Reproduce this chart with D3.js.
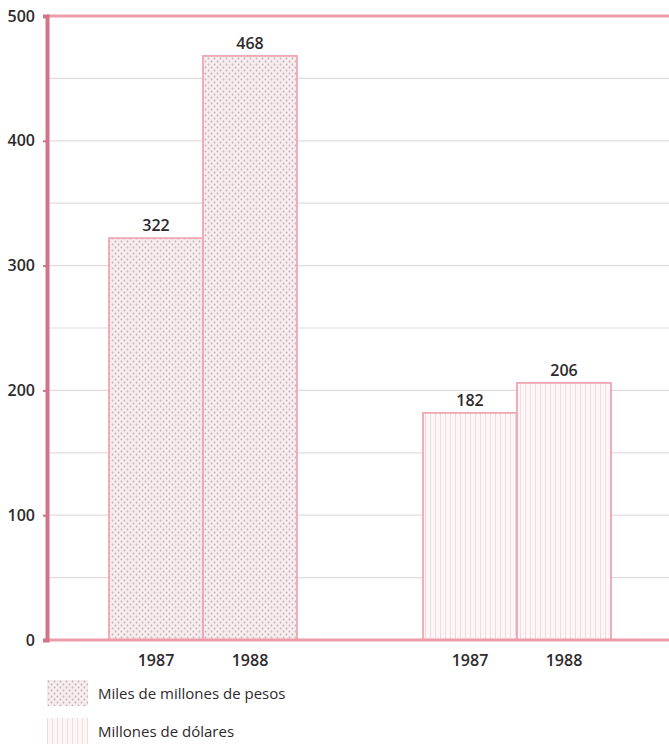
<!DOCTYPE html>
<html>
<head>
<meta charset="utf-8">
<script src="https://cdn.jsdelivr.net/npm/d3@7"></script>
<style>
  body { margin: 0; background: #fff; }
  text { font-family: "Open Sans", sans-serif; fill: #2e2a2c; }
</style>
</head>
<body>
<div id="chart"></div>
<script>
// data
var groups = ["pesos", "dolares"];
var years = ["1987", "1988"];
var pesos = [322, 468];
var dolares = [182, 206];
var yTicks = [0, 100, 200, 300, 400, 500];
var legendLabels = ["Miles de millones de pesos", "Millones de dólares"];

var width = 669,
    height = 746,
    plotLeft = 47,
    plotTop = 16,
    plotBottom = 640;

var svg = d3.select("#chart").append("svg")
    .attr("width", width)
    .attr("height", height);

var defs = svg.append("defs");

// dotted screen for pesos
var dots = defs.append("pattern")
    .attr("id", "dots")
    .attr("patternUnits", "userSpaceOnUse")
    .attr("width", 6).attr("height", 6);
dots.append("rect").attr("width", 6).attr("height", 6).attr("fill", "#f6edef");
dots.append("circle").attr("cx", 1.5).attr("cy", 1.5).attr("r", 0.9).attr("fill", "#c6aeb5");
dots.append("circle").attr("cx", 4.5).attr("cy", 4.5).attr("r", 0.9).attr("fill", "#c6aeb5");

// vertical hatching for dollars
var lines = defs.append("pattern")
    .attr("id", "vlines")
    .attr("patternUnits", "userSpaceOnUse")
    .attr("width", 5).attr("height", 10);
lines.append("rect").attr("width", 5).attr("height", 10).attr("fill", "#fcf6f7");
lines.append("rect").attr("x", 0).attr("width", 1).attr("height", 10).attr("fill", "#ecdde0");

var y = d3.scaleLinear()
    .domain([0, 500])
    .range([plotBottom, plotTop]);

var x0 = d3.scalePoint()
    .domain(groups)
    .range([203, 517]);

var x1 = d3.scaleBand()
    .domain(years)
    .range([-94, 94]);

// light grid every 50
svg.append("g")
    .selectAll("line")
    .data(d3.range(50, 500, 50))
    .enter().append("line")
      .attr("x1", plotLeft).attr("x2", width)
      .attr("y1", function(d) { return y(d); })
      .attr("y2", function(d) { return y(d); })
      .style("stroke", "#e4dadc")
      .style("stroke-width", "1.2px");

var values = { pesos: pesos, dolares: dolares };
var fills = { pesos: "url(#dots)", dolares: "url(#vlines)" };

var bars = [];
groups.forEach(function(g) {
  years.forEach(function(yr, i) {
    bars.push({ group: g, year: yr, value: values[g][i] });
  });
});

svg.append("g")
    .selectAll("rect")
    .data(bars)
    .enter().append("rect")
      .attr("x", function(d) { return x0(d.group) + x1(d.year); })
      .attr("y", function(d) { return y(d.value); })
      .attr("width", x1.bandwidth())
      .attr("height", function(d) { return y(0) - y(d.value); })
      .style("fill", function(d) { return fills[d.group]; })
      .style("stroke", "#f0a6b3")
      .style("stroke-width", "1.8px");

// value labels
svg.append("g")
    .selectAll("text")
    .data(bars)
    .enter().append("text")
      .attr("x", function(d) { return x0(d.group) + x1(d.year) + x1.bandwidth() / 2; })
      .attr("y", function(d) { return y(d.value) - 7; })
      .attr("text-anchor", "middle")
      .style("font-size", "16px")
      .style("font-weight", "600")
      .text(function(d) { return d.value; });

// year labels
svg.append("g")
    .selectAll("text")
    .data(bars)
    .enter().append("text")
      .attr("x", function(d) { return x0(d.group) + x1(d.year) + x1.bandwidth() / 2; })
      .attr("y", 666)
      .attr("text-anchor", "middle")
      .style("font-size", "16px")
      .style("font-weight", "600")
      .text(function(d) { return d.year; });

// frame: top and bottom pink lines, left axis
svg.append("line")
    .attr("x1", plotLeft).attr("x2", width)
    .attr("y1", y(500)).attr("y2", y(500))
    .style("stroke", "#ee9aa8").style("stroke-width", "3px");
svg.append("line")
    .attr("x1", plotLeft).attr("x2", width)
    .attr("y1", y(0)).attr("y2", y(0))
    .style("stroke", "#ee9aa8").style("stroke-width", "3px");

var yAxis = d3.axisLeft(y)
    .tickValues(yTicks)
    .tickSize(4)
    .tickPadding(8);

var ax = svg.append("g")
    .attr("transform", "translate(" + plotLeft + ",0)")
    .call(yAxis);
ax.select(".domain")
    .style("stroke", "#d27388").style("stroke-width", "4px");
ax.selectAll(".tick line")
    .style("stroke", "#d27388").style("stroke-width", "2px");
ax.selectAll(".tick text")
    .style("font-family", "'Open Sans', sans-serif")
    .style("font-size", "16px")
    .style("font-weight", "600")
    .style("fill", "#2e2a2c");

// legend
var legend = svg.append("g")
    .selectAll("g")
    .data(legendLabels)
    .enter().append("g")
      .attr("transform", function(d, i) { return "translate(47," + (680 + i * 38) + ")"; });

legend.append("rect")
    .attr("width", 41).attr("height", 26)
    .style("fill", function(d, i) { return fills[groups[i]]; });

legend.append("text")
    .attr("x", 51).attr("y", 19)
    .style("font-size", "15px")
    .style("font-weight", "500")
    .text(function(d) { return d; });
</script>
</body>
</html>
